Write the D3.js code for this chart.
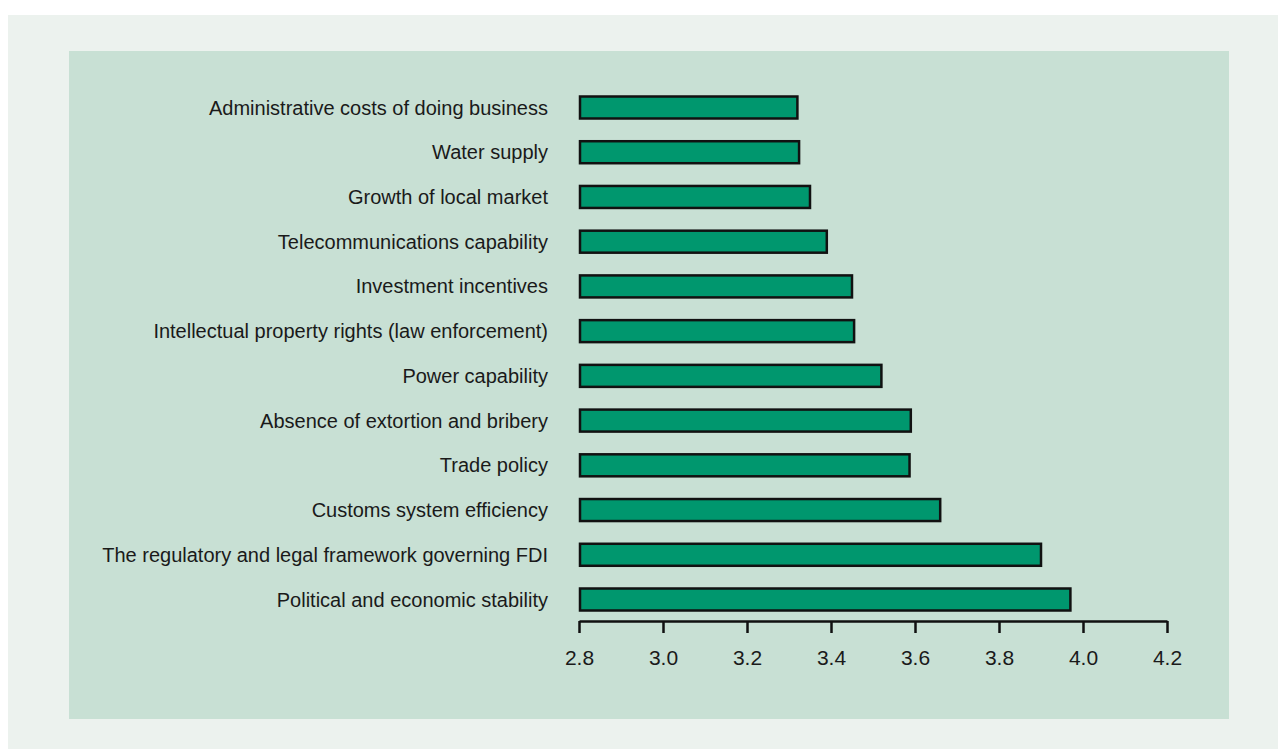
<!DOCTYPE html>
<html>
<head>
<meta charset="utf-8">
<script src="https://cdn.jsdelivr.net/npm/d3@7"></script>
<style>
  body { margin: 0; background: #ffffff; }
  svg { display: block; font-family: "Liberation Sans", Arial, sans-serif; }
</style>
</head>
<body>
<svg width="1278" height="749"></svg>
<script>
const categories = [
  "Administrative costs of doing business",
  "Water supply",
  "Growth of local market",
  "Telecommunications capability",
  "Investment incentives",
  "Intellectual property rights (law enforcement)",
  "Power capability",
  "Absence of extortion and bribery",
  "Trade policy",
  "Customs system efficiency",
  "The regulatory and legal framework governing FDI",
  "Political and economic stability"
]
const values = [3.32, 3.324, 3.35, 3.39, 3.45, 3.455, 3.52, 3.59, 3.587, 3.66, 3.90, 3.97]
const ticks = [2.8, 3.0, 3.2, 3.4, 3.6, 3.8, 4.0, 4.2]

const data = categories.map((c, i) => ({ name: c, value: values[i] }))

const svg = d3.select('svg')

// outer and inner backgrounds
svg.append('rect')
  .attr('x', 8).attr('y', 15)
  .attr('width', 1270).attr('height', 734)
  .attr('fill', '#ecf2ee')

svg.append('rect')
  .attr('x', 69).attr('y', 51)
  .attr('width', 1160).attr('height', 668)
  .attr('fill', '#c8e0d4')

const xScale = d3.scaleLinear()
  .domain([2.8, 4.2])
  .range([579, 1167])

const yScale = d3.scalePoint()
  .domain(categories)
  .range([107.5, 599.5])

const barH = 22

const xAxis = d3.axisBottom(xScale)
  .tickValues(ticks)
  .tickFormat(d3.format('.1f'))
  .tickSize(12)
  .tickSizeOuter(0)
  .tickPadding(17)

const axisG = svg.append('g')
  .attr('transform', 'translate(0, 621)')
  .call(xAxis)

axisG.select('.domain')
  .attr('stroke', '#111')
  .attr('stroke-width', 2.5)
axisG.selectAll('.tick line')
  .attr('stroke', '#111')
  .attr('stroke-width', 2.5)
axisG.selectAll('.tick text')
  .attr('fill', '#1a1a1a')
  .style('font-size', '21px')
  .style('font-family', '"Liberation Sans", Arial, sans-serif')

svg.selectAll('rect.bar').data(data)
  .enter().append('rect')
  .attr('class', 'bar')
  .attr('x', xScale(2.8) + 1)
  .attr('y', d => yScale(d.name) - barH / 2)
  .attr('width', d => xScale(d.value) - xScale(2.8) - 1)
  .attr('height', barH)
  .attr('fill', '#00976e')
  .attr('stroke', '#111')
  .attr('stroke-width', 2.5)

svg.selectAll('text.label').data(data)
  .enter().append('text')
  .attr('class', 'label')
  .attr('x', 548)
  .attr('y', d => yScale(d.name))
  .attr('dy', '0.35em')
  .attr('text-anchor', 'end')
  .attr('fill', '#1a1a1a')
  .style('font-size', '20px')
  .text(d => d.name)
</script>
</body>
</html>
